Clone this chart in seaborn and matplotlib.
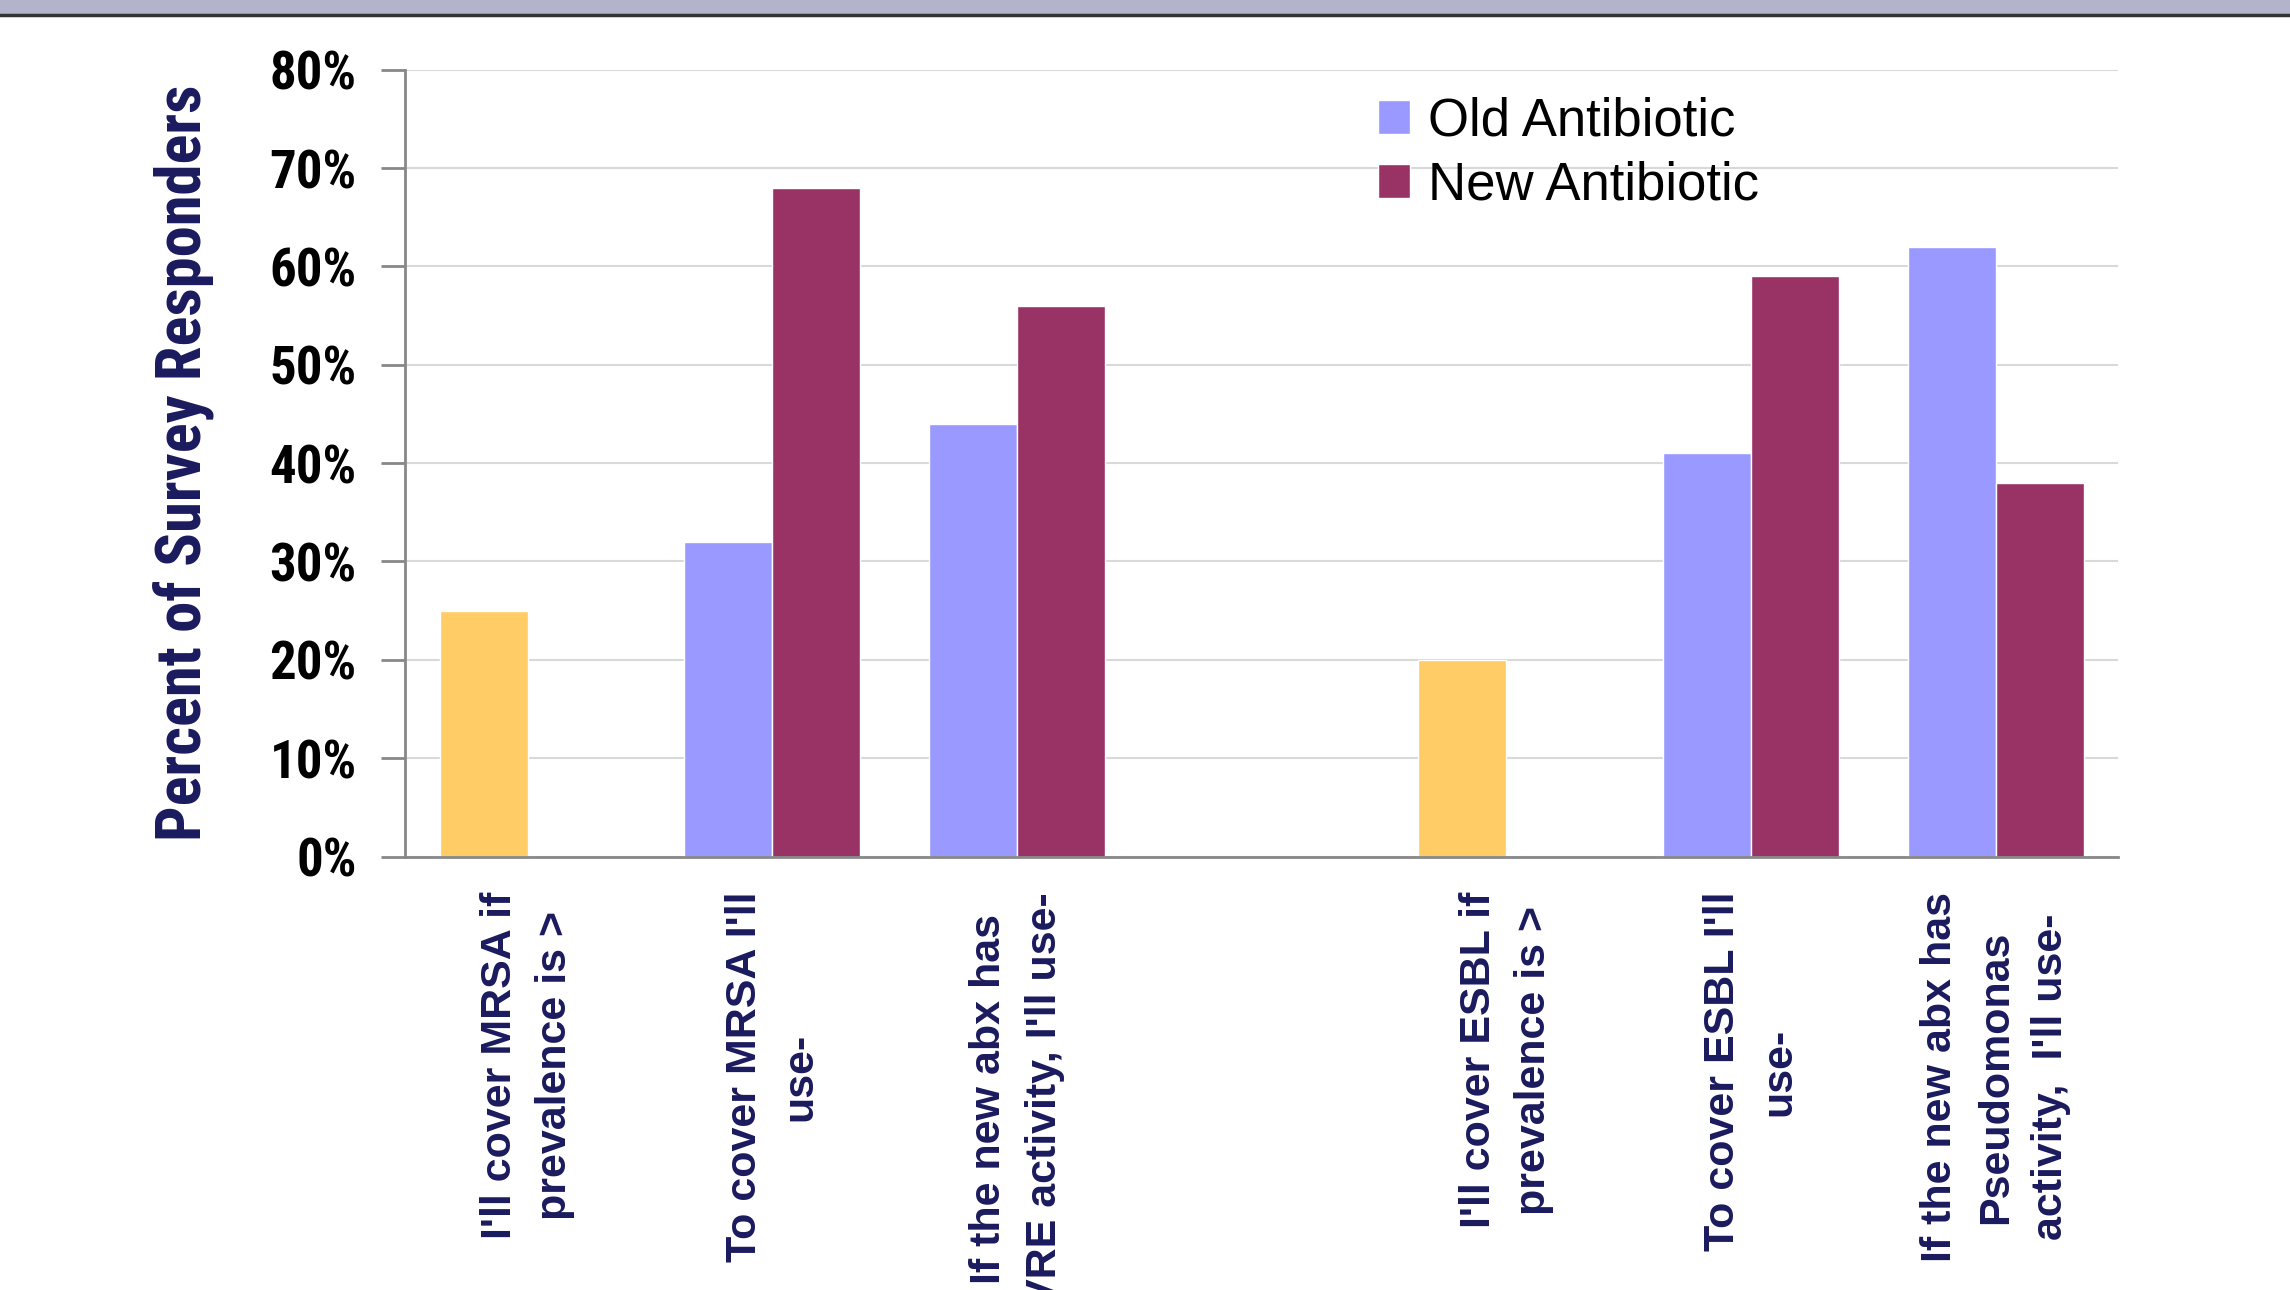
import seaborn as sns
import matplotlib.pyplot as plt
import pandas as pd
from matplotlib.ticker import PercentFormatter, MultipleLocator

categories = ["I'll cover MRSA if\nprevalence is >",
              "To cover MRSA I'll\nuse-",
              "If the new abx has\nVRE activity, I'll use-",
              " ",
              "I'll cover ESBL if\nprevalence is >",
              "To cover ESBL I'll\nuse-",
              "If the new abx has\nPseudomonas\nactivity,  I'll use-"]
old_abx = [25, 32, 44, None, 20, 41, 62]
new_abx = [None, 68, 56, None, None, 59, 38]
threshold_idx = [0, 4]  # prevalence questions, drawn in yellow

series = ['Old Antibiotic', 'New Antibiotic']
colors = {'Old Antibiotic': '#9999FF', 'New Antibiotic': '#993366'}
yellow = '#FFCC66'
navy = '#1A1A5E'
narrow = ['Liberation Sans Narrow', 'Roboto Condensed', 'DejaVu Sans Condensed',
          'Liberation Sans', 'DejaVu Sans']

rows = []
for cat, o, n in zip(categories, old_abx, new_abx):
    if o is not None:
        rows.append((cat, 'Old Antibiotic', o))
    if n is not None:
        rows.append((cat, 'New Antibiotic', n))
df = pd.DataFrame(rows, columns=['question', 'series', 'value'])

sns.set_style('white')
plt.rcParams['font.family'] = ['Liberation Sans', 'DejaVu Sans']

fig = plt.figure(figsize=(22.9, 12.9), dpi=100)
ax = fig.add_axes([0.177, 0.336, 0.748, 0.61])

sns.barplot(data=df, x='question', y='value', hue='series', order=categories,
            hue_order=series, palette=colors, width=0.72, saturation=1,
            errorbar=None, ax=ax, legend=True)

# recolour the threshold bars
old_bars = ax.containers[0]
for i in threshold_idx:
    for p in old_bars.patches:
        if abs(p.get_x() + p.get_width() - i) < 0.01:
            p.set_facecolor(yellow)

ax.set_ylim(0, 80)
ax.yaxis.set_major_locator(MultipleLocator(10))
ax.yaxis.set_major_formatter(PercentFormatter(decimals=0))
ax.grid(axis='y', color='#D9D9D9', linewidth=1.5)
ax.set_axisbelow(True)
for s in ['top', 'right']:
    ax.spines[s].set_visible(False)
for s in ['left', 'bottom']:
    ax.spines[s].set_color('#888888')
    ax.spines[s].set_linewidth(2)

ax.tick_params(axis='y', which='major', left=True, length=17, width=2,
               color='#888888', pad=18, labelcolor='black')
ax.tick_params(axis='x', bottom=False, pad=22)
for t in ax.get_yticklabels():
    t.set_fontfamily(narrow)
    t.set_fontstretch('condensed')
    t.set_fontweight('bold')
    t.set_fontsize(38)

ax.set_xticks(range(len(categories)))
ax.set_xticklabels(categories, rotation=90, fontsize=31, fontweight='bold',
                   color=navy, va='top', ha='center', multialignment='center',
                   linespacing=1.5)

ax.set_xlabel('')
ax.set_ylabel('Percent of Survey Responders', fontsize=45, fontweight='bold',
              color=navy, labelpad=40, fontfamily=narrow, fontstretch='condensed')

handles, labels = ax.get_legend_handles_labels()
ax.legend(handles, labels, loc='upper left', bbox_to_anchor=(0.568, 0.966),
          frameon=False, fontsize=38, handlelength=0.6, handleheight=0.6,
          handletextpad=0.35, labelspacing=0.27, borderpad=0, borderaxespad=0,
          labelcolor='black')

# top banner
fig.patches.append(plt.Rectangle((0, 0.988), 1, 0.012, transform=fig.transFigure,
                                 facecolor='#B3B3CC', edgecolor='none'))
fig.add_artist(plt.Line2D([0, 1], [0.988, 0.988], transform=fig.transFigure,
                          color='#333333', linewidth=2.5))

fig.savefig('out.png', dpi=100)
